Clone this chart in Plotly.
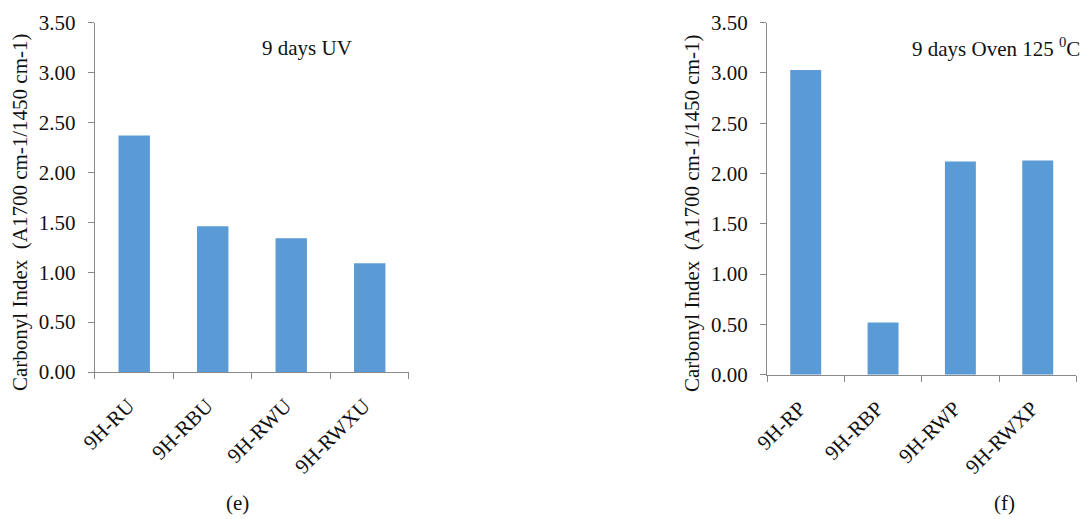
import plotly.graph_objects as go
from plotly.subplots import make_subplots

# Carbonyl index after 9 days of UV exposure
uv_samples = ["9H-RU", "9H-RBU", "9H-RWU", "9H-RWXU"]
uv_index = [2.37, 1.46, 1.34, 1.09]

# Carbonyl index after 9 days in oven at 125 C
oven_samples = ["9H-RP", "9H-RBP", "9H-RWP", "9H-RWXP"]
oven_index = [3.03, 0.52, 2.12, 2.13]

y_ticks = [0, 0.5, 1.0, 1.5, 2.0, 2.5, 3.0, 3.5]

BAR = "#5B9BD5"
AXIS = "#898989"
FONT = "Liberation Serif, Times New Roman, serif"
TXT = "#111"

fig = make_subplots(rows=1, cols=2)

fig.add_trace(go.Bar(x=uv_samples, y=uv_index, marker=dict(color=BAR, line=dict(width=0))), row=1, col=1)
fig.add_trace(go.Bar(x=oven_samples, y=oven_index, marker=dict(color=BAR, line=dict(width=0))), row=1, col=2)

axis_common = dict(showline=True, linecolor=AXIS, linewidth=1.3, ticks="outside",
                   ticklen=6, tickcolor=AXIS, tickwidth=1.2, showgrid=False, zeroline=False,
                   automargin=False,
                   tickfont=dict(family=FONT, size=21, color=TXT))

fig.update_xaxes(**axis_common, tickangle=-45, tickson="boundaries",
                 ticklabelstandoff=12, ticklabelshift=-6)
fig.update_yaxes(**axis_common, range=[0, 3.5], tickvals=y_ticks, tickformat=".2f",
                 ticklabelstandoff=8)

fig.update_layout(
    width=1084, height=519,
    margin=dict(l=0, r=0, t=0, b=0, autoexpand=False),
    paper_bgcolor="white", plot_bgcolor="white",
    showlegend=False, bargap=0.6,
    font=dict(family=FONT, color=TXT),
    xaxis=dict(domain=[0.0876, 0.3773]),
    yaxis=dict(domain=[0.2832, 0.9563]),
    xaxis2=dict(domain=[0.7076, 0.9930]),
    yaxis2=dict(domain=[0.278, 0.9563]),
)

ytitle = "Carbonyl Index  (A1700 cm-1/1450 cm-1)"
for xpos, ypos in [(20, 212), (692, 213)]:
    fig.add_annotation(text=ytitle, xref="paper", yref="paper",
                       x=xpos / 1084, y=1 - ypos / 519, textangle=-90, showarrow=False,
                       font=dict(family=FONT, size=21, color=TXT),
                       xanchor="center", yanchor="middle")

fig.add_annotation(text="9 days UV", xref="paper", yref="paper",
                   x=307 / 1084, y=1 - 48 / 519, showarrow=False,
                   font=dict(family=FONT, size=21, color=TXT),
                   xanchor="center", yanchor="middle")
fig.add_annotation(text="9 days Oven 125 <sup>0</sup>C", xref="paper", yref="paper",
                   x=996 / 1084, y=1 - 48 / 519, showarrow=False,
                   font=dict(family=FONT, size=21, color=TXT),
                   xanchor="center", yanchor="middle")

for label, xpos in [("(e)", 237), ("(f)", 1004)]:
    fig.add_annotation(text=label, xref="paper", yref="paper",
                       x=xpos / 1084, y=1 - 503 / 519, showarrow=False,
                       font=dict(family=FONT, size=21, color=TXT),
                       xanchor="center", yanchor="middle")

fig.write_html("out.html", post_script="document.body.style.margin='0';")
